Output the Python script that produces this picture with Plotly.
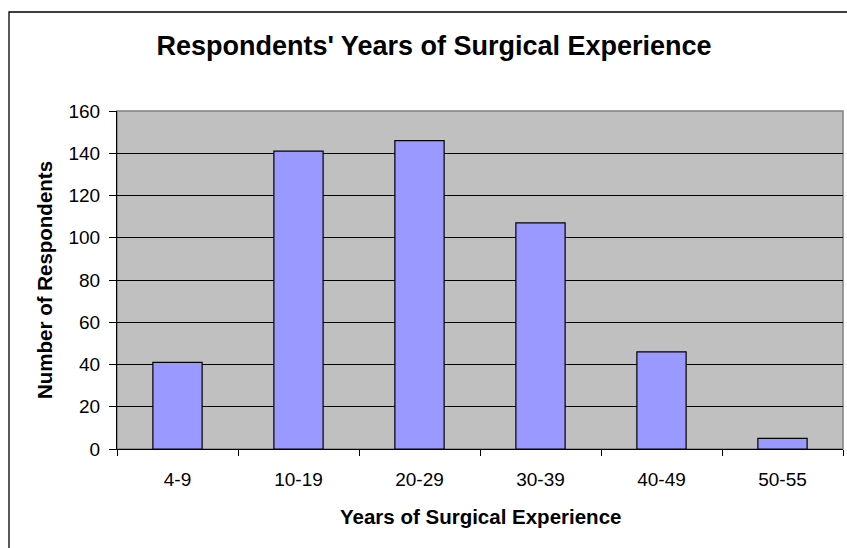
import plotly.graph_objects as go

categories = ["4-9", "10-19", "20-29", "30-39", "40-49", "50-55"]
respondents = [41, 141, 146, 107, 46, 5]
y_ticks = [0, 20, 40, 60, 80, 100, 120, 140, 160]

W, H = 847, 548
ML, MR, MT, MB = 117, 4, 111, 99
PW = W - ML - MR
PH = H - MT - MB

def px_x(x):
    return (x - ML) / PW

def px_y(y):
    return (H - MB - y) / PH

FONT = "Liberation Sans, Arial, sans-serif"

fig = go.Figure()
fig.add_trace(go.Bar(
    x=categories, y=respondents,
    marker=dict(color="#9999FF", line=dict(color="black", width=1.2)),
))

fig.update_layout(
    width=W, height=H,
    margin=dict(l=ML, r=MR, t=MT, b=MB),
    paper_bgcolor="white",
    plot_bgcolor="#C0C0C0",
    bargap=0.593,
    showlegend=False,
    title=dict(
        text="<b>Respondents' Years of Surgical Experience</b>",
        font=dict(family=FONT, size=27, color="black"),
        x=434 / W, xanchor="center", xref="container",
        y=1 - 46 / H, yanchor="middle", yref="container",
    ),
    font=dict(family=FONT, color="black"),
)

fig.update_xaxes(
    type="category",
    tickson="boundaries",
    ticks="outside", ticklen=6, tickcolor="black", tickwidth=1,
    showline=True, linecolor="black", linewidth=1,
    showgrid=False,
    tickfont=dict(family=FONT, size=19, color="black"),
    ticklabelstandoff=13,
)
fig.update_yaxes(
    range=[0, 160],
    tickvals=y_ticks,
    ticks="outside", ticklen=7, tickcolor="black", tickwidth=1,
    showline=True, linecolor="black", linewidth=1,
    showgrid=True, gridcolor="black", gridwidth=1,
    zeroline=False,
    tickfont=dict(family=FONT, size=19, color="black"),
    ticklabelstandoff=5,
)

# plot area frame (gray top/right edges)
fig.add_shape(type="rect", xref="paper", yref="paper", x0=0, y0=0, x1=1, y1=1,
              line=dict(color="#808080", width=1.5), layer="below")

# outer chart border
fig.add_shape(type="rect", xref="paper", yref="paper",
              x0=px_x(9), y0=px_y(H + 5), x1=px_x(W + 5), y1=px_y(12),
              line=dict(color="black", width=1.3), layer="above")

fig.add_annotation(
    text="<b>Years of Surgical Experience</b>",
    xref="paper", yref="paper", x=0.5, y=px_y(516),
    xanchor="center", yanchor="middle", showarrow=False,
    font=dict(family=FONT, size=20.5, color="black"),
)
fig.add_annotation(
    text="<b>Number of Respondents</b>",
    xref="paper", yref="paper", x=px_x(44), y=0.5,
    xanchor="center", yanchor="middle", showarrow=False, textangle=-90,
    font=dict(family=FONT, size=20.5, color="black"),
)

fig.write_html(
    "out.html",
    config={"displayModeBar": False},
    post_script="document.body.style.margin='0';document.body.style.overflow='hidden';",
)
